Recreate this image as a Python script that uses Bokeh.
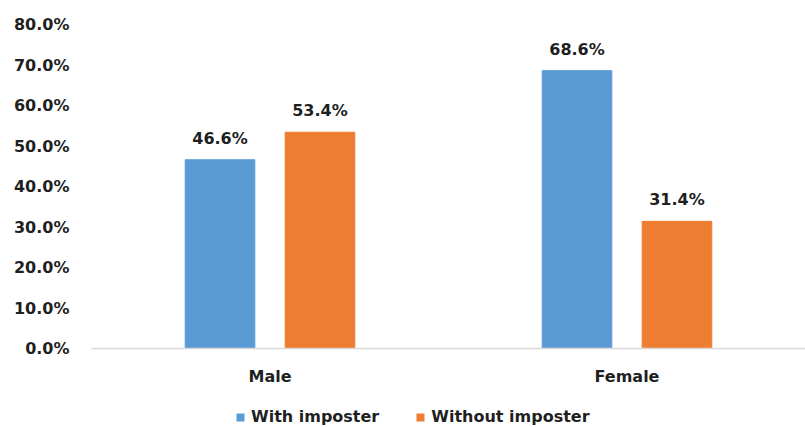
from bokeh.plotting import figure
from bokeh.layouts import column
from bokeh.models import ColumnDataSource, FactorRange, Legend, LegendItem, PrintfTickFormatter, Range1d, FixedTicker
from bokeh.transform import dodge
from bokeh.embed import file_html
from bokeh.resources import INLINE

categories = ["Male", "Female"]
with_imposter = [46.6, 68.6]
without_imposter = [53.4, 31.4]
y_ticks = [0, 10, 20, 30, 40, 50, 60, 70, 80]
series_names = ["With imposter", "Without imposter"]
colors = ["#5B9BD5", "#ED7D31"]

FONT = "DejaVu Sans"
TXT = "#1F1F1F"
src = ColumnDataSource(dict(
    cat=categories,
    w=with_imposter,
    wo=without_imposter,
    wl=[f"{v:.1f}%" for v in with_imposter],
    wol=[f"{v:.1f}%" for v in without_imposter],
))

xr = FactorRange(*categories, range_padding=0)
p = figure(width=805, height=400, x_range=xr,
           y_range=Range1d(0, 80), output_backend="svg", toolbar_location=None,
           min_border_left=91, min_border_right=0, min_border_top=24, min_border_bottom=52)
p.outline_line_color = None
p.grid.visible = False

p.vbar(x=dodge("cat", -0.14, range=xr), top="w", width=0.195, source=src,
       fill_color=colors[0], line_color=colors[0])
p.vbar(x=dodge("cat", 0.14, range=xr), top="wo", width=0.195, source=src,
       fill_color=colors[1], line_color=colors[1])

for key, lab, off in (("w", "wl", -0.14), ("wo", "wol", 0.14)):
    p.text(x=dodge("cat", off, range=xr), y=key, text=lab, source=src,
           text_align="center", text_baseline="bottom", y_offset=-12,
           text_font_size="16px", text_font_style="bold", text_color=TXT,
           text_font={"value": FONT})

p.yaxis.ticker = FixedTicker(ticks=y_ticks)
p.yaxis.formatter = PrintfTickFormatter(format="%.1f%%")
p.yaxis.axis_line_color = None
p.yaxis.major_tick_line_color = None
p.yaxis.minor_tick_line_color = None
p.yaxis.major_label_standoff = 16
p.yaxis.major_label_text_font = FONT
p.yaxis.major_label_text_font_size = "16px"
p.yaxis.major_label_text_font_style = "bold"
p.yaxis.major_label_text_color = TXT

p.xaxis.axis_line_color = "#D9D9D9"
p.xaxis.axis_line_width = 1.5
p.xaxis.major_tick_line_color = None
p.xaxis.minor_tick_line_color = None
p.xaxis.major_label_standoff = 12
p.xaxis.major_label_text_font = FONT
p.xaxis.major_label_text_font_size = "16px"
p.xaxis.major_label_text_font_style = "bold"
p.xaxis.major_label_text_color = TXT

# legend strip below the chart (zero-width bars serve only as legend glyphs)
lg = figure(width=805, height=27, x_range=FactorRange(*categories), y_range=Range1d(0, 80),
            output_backend="svg", toolbar_location=None,
            min_border_left=0, min_border_right=0, min_border_top=0, min_border_bottom=0)
lg.axis.visible = False
lg.grid.visible = False
lg.outline_line_color = None
lr1 = lg.vbar(x="cat", top="w", width=0, source=src, fill_color=colors[0], line_color=None)
lr2 = lg.vbar(x="cat", top="wo", width=0, source=src, fill_color=colors[1], line_color=None)
legend = Legend(items=[LegendItem(label=series_names[0], renderers=[lr1]),
                       LegendItem(label=series_names[1], renderers=[lr2])],
                orientation="horizontal", location=(144, 1),
                label_text_font=FONT, label_text_font_size="16px", label_text_font_style="bold",
                label_text_color=TXT, glyph_width=10, glyph_height=10,
                spacing=36, padding=0, margin=0, border_line_color=None,
                label_standoff=6, background_fill_alpha=0)
lg.add_layout(legend, "center")

layout = column(p, lg, spacing=0)
open("out.html", "w").write(file_html(layout, INLINE))
